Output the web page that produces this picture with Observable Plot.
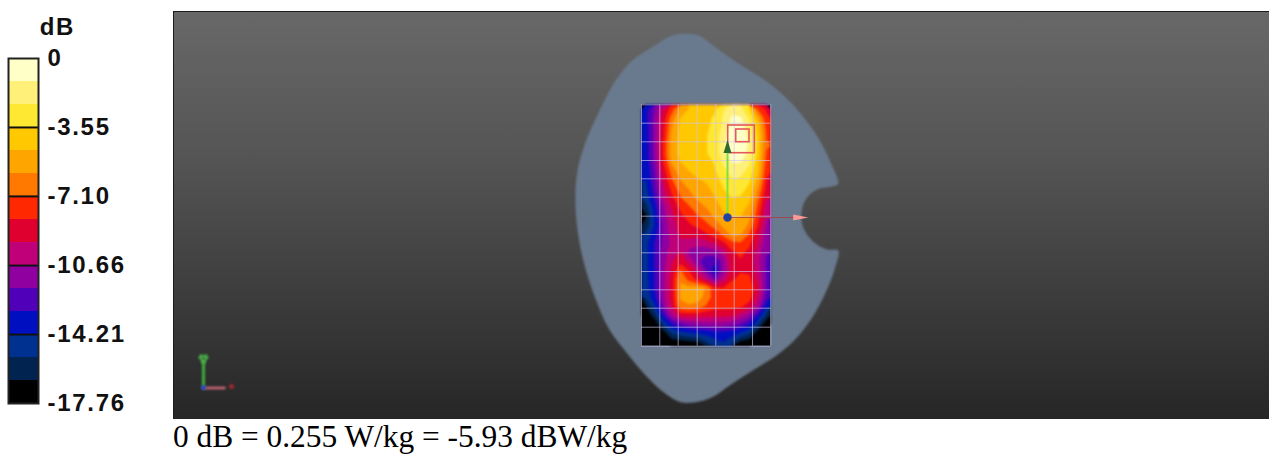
<!DOCTYPE html>
<html><head><meta charset="utf-8">
<script src="https://cdn.jsdelivr.net/npm/d3@7"></script>
<script src="https://cdn.jsdelivr.net/npm/@observablehq/plot@0.6"></script>
<style>
html,body{margin:0;padding:0;background:#fff;overflow:hidden;height:457px}
#row{display:flex;width:1269px;height:419px}
#row svg{display:block;flex:none}
#row svg:first-child text{letter-spacing:1.7px}
#cap{font:31.4px "Liberation Serif",serif;color:#000;margin-left:173px;line-height:36px;height:38px;white-space:nowrap}
.soft{filter:blur(.8px)}
.soft2{filter:blur(.4px)}
</style></head><body>
<div id="row"></div>
<div id="cap">0 dB = 0.255 W/kg = -5.93 dBW/kg</div>
<script>
// colour bands, dB
const bandEdges = [-17.76,-16.576,-15.392,-14.208,-13.024,-11.84,-10.656,-9.472,-8.288,-7.104,-5.92,-4.736,-3.552,-2.368,-1.184,0];
const bandColors = ["#000000","#00234f","#003090","#0010c0","#5000b8","#9000a0","#c00078","#e00030","#ff2800","#ff7800","#ffa500","#ffc800","#ffe832","#fff07a","#ffffc8"];
const tickValues = [0,-3.55,-7.10,-10.66,-14.21,-17.76];
const tickLabels = ["0","-3.55","-7.10","-10.66","-14.21","-17.76"];

// measured SAR on the scan grid, dB (15 columns x 27 rows, top row first)
const sarRows = [
[-13.4,-11.8,-9.5,-7.7,-5.5,-4.7,-4.1,-4.1,-3.7,-2.5,-1.5,-2,-3.5,-7.2,-8.5],
[-13.4,-11.5,-9,-6.5,-4.7,-4.1,-3.8,-3.8,-3.4,-2.2,-1,-1,-2.5,-5,-8],
[-13.6,-11.5,-8.8,-6,-4.5,-4,-3.7,-3.7,-3.3,-2,-.6,-.5,-2,-4.3,-7.5],
[-13.6,-11.5,-8.6,-5.6,-4.4,-3.9,-3.7,-3.6,-3.2,-1.6,-.4,-.3,-1.5,-4,-7.2],
[-13.6,-11.5,-8.2,-5.4,-4.4,-3.9,-3.7,-3.6,-3.2,-1.5,-.3,-.3,-1.4,-3.9,-7],
[-13.6,-11.5,-8.2,-5.3,-4.4,-3.9,-3.7,-3.6,-3.3,-1.5,-.5,-.5,-1.6,-4,-7.2],
[-13.8,-11.6,-8.5,-5.8,-4.8,-4.2,-4,-3.9,-3.5,-2.2,-1.2,-1.2,-2.2,-4.3,-7.6],
[-14,-12,-9,-6.7,-5.3,-4.8,-4.3,-4.2,-3.7,-2.8,-1.9,-2,-2.8,-4.6,-8],
[-14.2,-12.2,-9.5,-7.3,-6,-5.2,-4.9,-4.6,-4.1,-3.2,-2.5,-2.6,-3.4,-5.2,-8.4],
[-14.6,-12.4,-10,-8,-6.6,-5.9,-5.3,-5,-4.5,-3.6,-3.1,-3.2,-3.9,-6,-8.8],
[-15,-13,-10.4,-8.7,-7.3,-6.5,-5.8,-5.4,-4.8,-4,-3.6,-3.7,-4.4,-6.8,-9.4],
[-15.8,-13.6,-11,-9.4,-8,-7.3,-6.5,-5.9,-5.3,-4.5,-4.2,-4.3,-5,-7.3,-10],
[-16.7,-14,-11.2,-9.8,-8.6,-7.9,-7.2,-6.7,-5.7,-5,-4.7,-4.7,-5.6,-7.8,-10.4],
[-16,-14.2,-11.5,-10,-9,-8.5,-8,-7.4,-6.7,-5.6,-5,-5,-6.2,-8.3,-10.8],
[-15.2,-13.5,-11.6,-10.2,-9.3,-9.1,-9.1,-8.5,-7.8,-6.8,-5.6,-5.8,-7.2,-9,-11.2],
[-14.6,-13,-11.6,-10.4,-9.7,-10,-10.2,-10,-9.4,-8.6,-7.5,-7.3,-8,-9.5,-11.5],
[-14.6,-13,-11.4,-10,-9.4,-11,-11.6,-11.5,-11.2,-10.2,-8.5,-8,-8.6,-10,-11.8],
[-14.6,-13,-11.2,-9.6,-8.8,-9.8,-11.6,-12.4,-12.8,-11.2,-8.9,-8.4,-8.8,-10.2,-12],
[-14.6,-13,-11,-9.3,-7,-8.4,-10,-12,-13.6,-11.2,-9,-8.4,-8.6,-10,-12],
[-14.6,-13,-11,-9,-6,-7.5,-8.6,-10,-11.8,-10,-8.4,-8,-8,-9.6,-12],
[-14.8,-13,-11,-9,-5.8,-5.5,-5.5,-6,-8.2,-8.2,-7.8,-7.5,-7.4,-9.2,-12],
[-15.2,-13.4,-11,-9,-5.8,-5.5,-5.5,-6.2,-7.8,-7.8,-7.6,-7.4,-7.7,-9.6,-12.4],
[-16.6,-14.5,-11.6,-9.4,-6.2,-6,-6.2,-7.2,-7.8,-7.8,-7.8,-8,-8.8,-10.6,-13.6],
[-17.5,-16,-13,-10.6,-9,-8.8,-8.9,-9,-9,-9.1,-9.1,-10,-11,-13,-15.6],
[-18,-17.4,-15,-13,-12,-11.4,-11.2,-11,-11,-11,-11.4,-12,-13,-15,-17.4],
[-18,-18,-17.2,-15.2,-14.6,-14.2,-14,-13.8,-13.4,-13.4,-13.6,-14.2,-15,-17.2,-18],
[-18,-18,-18,-17.2,-17,-16.8,-16.6,-15.4,-14.6,-14.2,-15,-16.8,-17.2,-18,-18]
];
const sarValues = sarRows.flat();

// head phantom outline, model units (origin at the reference dot)
const outlineX = [-42,-28.7,-12,11.3,38,58,74.7,91.3,103,110.7,104.7,91.3,79.7,74,76.3,86.3,99.7,110.7,107.3,101.3,88,71.3,51.3,28,4.7,-15.3,-32,-47,-62,-78.7,-98.7,-118.7,-132,-142,-148.7,-152,-150.3,-142,-128.7,-112,-95.3,-75.3,-55.3];
const outlineY = [183.7,182,170.3,153.7,137,120.3,102,78.7,55.3,33.7,31,28.7,20.3,5.3,-11.3,-24.7,-32,-33,-51.3,-68,-94.7,-118,-136.3,-151.3,-166.3,-179.7,-184.7,-184.7,-176.3,-161.3,-138,-111.3,-81.3,-51.3,-21.3,12,45.3,75.3,105.3,137,157,170.3,182];
const outline = outlineX.map((x,i)=>({x,y:outlineY[i]}));

// grid and probes
const gridXs = [-86,-67.7,-49.3,-30.3,-11.7,6.7,25,43.3];
const gridYs = [112.7,94.3,75.7,57,38.7,20.3,1.3,-17,-35.3,-54,-72.3,-90.7,-109.7,-128.7];
const zoomBoxes = [{x1:.7,x2:27.3,y1:92,y2:64.3},{x1:8.7,x2:22,y1:88,y2:75.3}];
const yAxisProbe = [{x:0,y:0},{x:0,y:68}];
const yTip = [{x:0,y:64.5}];
const xAxisProbe = [{x:0,y:0},{x:66,y:0}];
const xTip = [{x:65.7,y:0}];
const triadY = [{x:-524,y:-170},{x:-524,y:-145}];
const triadYTip = [{x:-524,y:-141}];
const triadX = [{x:-524,y:-170.5},{x:-503,y:-170.5}];
const triadXTip = [{x:-496,y:-169}];
const triadZ = [{x:-524,y:-170}];

const gradient = () => {
  const defs = d3.create("svg:defs");
  const g = defs.append("linearGradient").attr("id","panelBg").attr("x1",0).attr("x2",0).attr("y1",0).attr("y2",1);
  [[0,"#686868"],[.35,"#555555"],[.7,"#3c3c3c"],[1,"#262626"]].forEach(([o,c])=>g.append("stop").attr("offset",o).attr("stop-color",c));
  return defs.node();
};

const bandRows = bandColors.map((c,i)=>({y1:bandEdges[i],y2:bandEdges[i+1],c}));
const legend = Plot.plot({
  width:173,height:419,marginLeft:8,marginRight:135,marginTop:58,marginBottom:16,
  x:{domain:[0,1],axis:null},
  y:{domain:[-17.76,0],axis:null},
  marks:[
    Plot.rect(bandRows,{x1:0,x2:1,y1:"y1",y2:"y2",fill:"c"}),
    Plot.ruleY(tickValues.slice(1,5),{x1:0,x2:1,stroke:"#111",strokeWidth:2}),
    Plot.frame({stroke:"#222",strokeWidth:2}),
    Plot.axisY(tickValues,{anchor:"right",tickSize:0,tickPadding:9,label:null,
      tickFormat:(d)=>tickLabels[tickValues.indexOf(d)],
      fontSize:24,fontWeight:"bold",fontFamily:"Liberation Sans",fill:"#111"}),
    Plot.text(["dB"],{x:[1.63],y:[1.6],fontSize:24,fontWeight:"bold",fontFamily:"Liberation Sans",fill:"#111"})
  ]
});

const main = Plot.plot({
  width:1096,height:419,marginLeft:0,marginRight:0,marginTop:11,marginBottom:0,
  x:{domain:[-554,542],axis:null},
  y:{domain:[-202,206],axis:null},
  color:{type:"threshold",domain:bandEdges.slice(1,15),range:bandColors},
  marks:[
    gradient,
    Plot.frame({fill:"url(#panelBg)",stroke:"#1c1c1c"}),
    Plot.line(outline,{x:"x",y:"y",fill:"#6a7a8e",stroke:"none",curve:"catmull-rom-closed",className:"soft"}),
    Plot.rect([{}],{x1:gridXs[0],x2:gridXs[7],y1:gridYs[0],y2:gridYs[13],fill:"#000"}),
    Plot.contour(sarValues,{width:15,height:27,x1:gridXs[0],x2:gridXs[7],y1:gridYs[0],y2:gridYs[13],
      fill:Plot.identity,thresholds:bandEdges.slice(0,15),className:"soft"}),
    Plot.ruleX(gridXs,{y1:gridYs[0],y2:gridYs[13],stroke:"#cfc6f0",strokeOpacity:.65,strokeWidth:1,className:"soft2"}),
    Plot.ruleY(gridYs,{x1:gridXs[0],x2:gridXs[7],stroke:"#cfc6f0",strokeOpacity:.65,strokeWidth:1,className:"soft2"}),
    Plot.rect(zoomBoxes,{x1:"x1",x2:"x2",y1:"y1",y2:"y2",fill:"none",stroke:"#e4585a",strokeWidth:1.6,className:"soft2"}),
    Plot.line(xAxisProbe,{x:"x",y:"y",stroke:"#b03a44",strokeWidth:1,strokeOpacity:.8}),
    Plot.vector(xTip,{x:"x",y:"y",shape:"spike",anchor:"start",length:15,r:3,rotate:90,fill:"#ff9a94",stroke:"none",className:"soft2"}),
    Plot.line(yAxisProbe,{x:"x",y:"y",stroke:"#7fe040",strokeWidth:2,className:"soft2"}),
    Plot.vector(yTip,{x:"x",y:"y",shape:"spike",anchor:"start",length:13,r:4,rotate:0,fill:"#2d6a2d",stroke:"none",className:"soft2"}),
    Plot.dot(yAxisProbe.slice(0,1),{x:"x",y:"y",r:4.2,fill:"#2244a0"}),
    Plot.line(triadY,{x:"x",y:"y",stroke:"#3fae3f",strokeWidth:3,className:"soft"}),
    Plot.line(triadX,{x:"x",y:"y",stroke:"#d06a7a",strokeWidth:2.5,className:"soft"}),
    Plot.dot(triadYTip,{x:"x",y:"y",symbol:"wye",r:3,stroke:"#4cc04c",strokeWidth:2,className:"soft"}),
    Plot.dot(triadXTip,{x:"x",y:"y",r:2.5,fill:"#a02a30",className:"soft"}),
    Plot.dot(triadZ,{x:"x",y:"y",r:2.5,fill:"#2244c0",className:"soft"})
  ]
});
document.getElementById("row").append(legend,main);
</script>
</body></html>
